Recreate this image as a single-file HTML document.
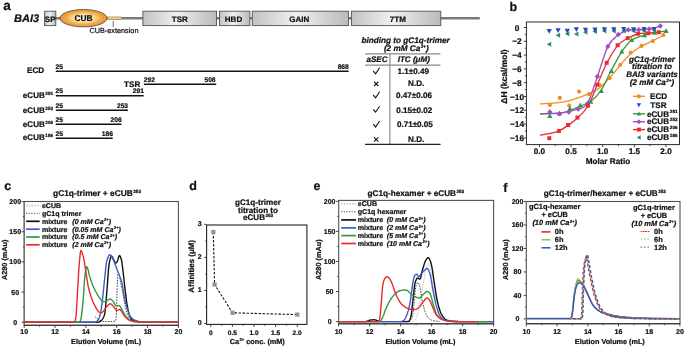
<!DOCTYPE html>
<html><head><meta charset="utf-8"><style>
html,body{margin:0;padding:0;background:#fff;}
svg{display:block;will-change:transform;}
text{font-family:"Liberation Sans",sans-serif;stroke:#111;stroke-width:0.22px;text-rendering:geometricPrecision;}
</style></head><body>
<svg width="685" height="347" viewBox="0 0 685 347">
<defs>
<linearGradient id="gbox" x1="0" y1="0" x2="1" y2="0">
<stop offset="0" stop-color="#c2c2c2"/><stop offset="0.45" stop-color="#f0f0f0"/><stop offset="1" stop-color="#bababa"/>
</linearGradient>
<radialGradient id="gcub" cx="0.5" cy="0.5" r="0.5">
<stop offset="0" stop-color="#fffcf2"/><stop offset="0.38" stop-color="#fbe4aa"/><stop offset="0.75" stop-color="#f0aa48"/><stop offset="1" stop-color="#e8922a"/>
</radialGradient>
</defs>
<rect width="685" height="347" fill="#fff"/>
<text x="3.20" y="10.30" font-size="13.5" font-weight="bold" font-style="normal" text-anchor="start" fill="#111" >a</text>
<text x="14.00" y="22.30" font-size="11.0" font-weight="bold" font-style="italic" text-anchor="start" fill="#111" >BAI3</text>
<line x1="50.00" y1="18.20" x2="479.80" y2="18.20" stroke="#7a7a7a" stroke-width="2.6" />
<rect x="44.60" y="11.2" width="11.20" height="14.40" fill="url(#gbox)" stroke="#505050" stroke-width="0.9"/>
<text x="50.20" y="21.90" font-size="8.0" font-weight="bold" font-style="normal" text-anchor="middle" fill="#111" >SP</text>
<ellipse cx="83.5" cy="18.2" rx="23.5" ry="8.7" fill="url(#gcub)" stroke="#3a3a3a" stroke-width="0.7"/>
<text x="83.50" y="21.40" font-size="8.4" font-weight="bold" font-style="normal" text-anchor="middle" fill="#111" >CUB</text>
<rect x="107.6" y="16.9" width="13.9" height="2.7" fill="#f2cd70" stroke="#777" stroke-width="0.5"/>
<line x1="113.20" y1="21.00" x2="113.20" y2="27.00" stroke="#333" stroke-width="0.7" />
<text x="89.40" y="32.80" font-size="7.3" font-weight="normal" font-style="normal" text-anchor="start" fill="#111" >CUB-extension</text>
<rect x="142.90" y="11.2" width="73.70" height="14.40" fill="url(#gbox)" stroke="#505050" stroke-width="0.9"/>
<text x="179.75" y="21.90" font-size="8" font-weight="bold" font-style="normal" text-anchor="middle" fill="#111" >TSR</text>
<rect x="219.50" y="11.2" width="30.40" height="14.40" fill="url(#gbox)" stroke="#505050" stroke-width="0.9"/>
<text x="233.50" y="21.90" font-size="8" font-weight="bold" font-style="normal" text-anchor="middle" fill="#111" >HBD</text>
<rect x="252.30" y="11.2" width="96.30" height="14.40" fill="url(#gbox)" stroke="#505050" stroke-width="0.9"/>
<text x="299.35" y="21.90" font-size="8" font-weight="bold" font-style="normal" text-anchor="middle" fill="#111" >GAIN</text>
<rect x="351.40" y="11.2" width="89.40" height="14.40" fill="url(#gbox)" stroke="#505050" stroke-width="0.9"/>
<text x="397.80" y="21.90" font-size="8" font-weight="bold" font-style="normal" text-anchor="middle" fill="#111" >7TM</text>
<line x1="55.80" y1="71.30" x2="348.60" y2="71.30" stroke="#111" stroke-width="1.5" />
<text x="27.00" y="73.20" font-size="8.1" font-weight="bold" font-style="normal" text-anchor="start" fill="#111" >ECD</text>
<text x="55.50" y="68.70" font-size="6.7" font-weight="bold" font-style="normal" text-anchor="start" fill="#111" >25</text>
<text x="348.80" y="68.70" font-size="6.7" font-weight="bold" font-style="normal" text-anchor="end" fill="#111" >868</text>
<line x1="55.80" y1="95.80" x2="143.70" y2="95.80" stroke="#111" stroke-width="1.5" />
<text x="22.80" y="98.40" font-size="8.1" font-weight="bold" font-style="normal" text-anchor="start" fill="#111" >eCUB<tspan font-size="4.6" dx="0.5" dy="-3.0">291</tspan></text>
<text x="55.50" y="93.20" font-size="6.7" font-weight="bold" font-style="normal" text-anchor="start" fill="#111" >25</text>
<text x="143.90" y="93.20" font-size="6.7" font-weight="bold" font-style="normal" text-anchor="end" fill="#111" >291</text>
<line x1="55.80" y1="110.30" x2="127.90" y2="110.30" stroke="#111" stroke-width="1.5" />
<text x="22.80" y="113.20" font-size="8.1" font-weight="bold" font-style="normal" text-anchor="start" fill="#111" >eCUB<tspan font-size="4.6" dx="0.5" dy="-3.0">253</tspan></text>
<text x="55.50" y="107.70" font-size="6.7" font-weight="bold" font-style="normal" text-anchor="start" fill="#111" >25</text>
<text x="128.10" y="107.70" font-size="6.7" font-weight="bold" font-style="normal" text-anchor="end" fill="#111" >253</text>
<line x1="55.80" y1="124.20" x2="121.50" y2="124.20" stroke="#111" stroke-width="1.5" />
<text x="22.80" y="126.60" font-size="8.1" font-weight="bold" font-style="normal" text-anchor="start" fill="#111" >eCUB<tspan font-size="4.6" dx="0.5" dy="-3.0">206</tspan></text>
<text x="55.50" y="121.60" font-size="6.7" font-weight="bold" font-style="normal" text-anchor="start" fill="#111" >25</text>
<text x="121.70" y="121.60" font-size="6.7" font-weight="bold" font-style="normal" text-anchor="end" fill="#111" >206</text>
<line x1="55.80" y1="138.20" x2="112.70" y2="138.20" stroke="#111" stroke-width="1.5" />
<text x="22.80" y="140.00" font-size="8.1" font-weight="bold" font-style="normal" text-anchor="start" fill="#111" >eCUB<tspan font-size="4.6" dx="0.5" dy="-3.0">186</tspan></text>
<text x="55.50" y="135.60" font-size="6.7" font-weight="bold" font-style="normal" text-anchor="start" fill="#111" >25</text>
<text x="112.90" y="135.60" font-size="6.7" font-weight="bold" font-style="normal" text-anchor="end" fill="#111" >186</text>
<line x1="143.80" y1="84.20" x2="216.20" y2="84.20" stroke="#111" stroke-width="1.5" />
<text x="140.30" y="86.90" font-size="8.1" font-weight="bold" font-style="normal" text-anchor="end" fill="#111" >TSR</text>
<text x="143.80" y="81.80" font-size="6.7" font-weight="bold" font-style="normal" text-anchor="start" fill="#111" >292</text>
<text x="215.60" y="81.80" font-size="6.7" font-weight="bold" font-style="normal" text-anchor="end" fill="#111" >508</text>
<text x="405.60" y="42.50" font-size="8.2" font-weight="bold" font-style="italic" text-anchor="middle" fill="#111" >binding to gC1q-trimer</text>
<text x="406.30" y="51.30" font-size="8.2" font-weight="bold" font-style="italic" text-anchor="middle" fill="#111" >(2 mM Ca<tspan font-size="4.6" dx="0.4" dy="-3.0">2+</tspan><tspan dy="3.0">)</tspan></text>
<line x1="365.10" y1="53.80" x2="440.40" y2="53.80" stroke="#8a8a8a" stroke-width="1.2" />
<line x1="365.10" y1="65.20" x2="440.40" y2="65.20" stroke="#8a8a8a" stroke-width="1.2" />
<line x1="389.90" y1="53.80" x2="389.90" y2="144.40" stroke="#8a8a8a" stroke-width="1.2" />
<line x1="365.10" y1="144.40" x2="440.60" y2="144.40" stroke="#222" stroke-width="1.1" />
<text x="377.00" y="61.50" font-size="8.1" font-weight="bold" font-style="italic" text-anchor="middle" fill="#111" >aSEC</text>
<text x="413.80" y="61.50" font-size="8.1" font-weight="bold" font-style="italic" text-anchor="middle" fill="#111" >ITC (μM)</text>
<path d="M373.2,70.90 L375.6,73.80 L379.6,67.80" fill="none" stroke="#111" stroke-width="1.1"/>
<text x="413.20" y="74.20" font-size="8.1" font-weight="bold" font-style="normal" text-anchor="middle" fill="#111" >1.1±0.49</text>
<path d="M374.0,81.70 L378.4,86.00 M378.4,81.70 L374.0,86.00" fill="none" stroke="#111" stroke-width="1.1"/>
<text x="416.20" y="86.30" font-size="8.1" font-weight="bold" font-style="normal" text-anchor="middle" fill="#111" >N.D.</text>
<path d="M373.2,94.90 L375.6,97.80 L379.6,91.80" fill="none" stroke="#111" stroke-width="1.1"/>
<text x="414.00" y="98.20" font-size="8.1" font-weight="bold" font-style="normal" text-anchor="middle" fill="#111" >0.47±0.06</text>
<path d="M373.2,109.30 L375.6,112.20 L379.6,106.20" fill="none" stroke="#111" stroke-width="1.1"/>
<text x="414.20" y="112.60" font-size="8.1" font-weight="bold" font-style="normal" text-anchor="middle" fill="#111" >0.15±0.02</text>
<path d="M373.2,124.10 L375.6,127.00 L379.6,121.00" fill="none" stroke="#111" stroke-width="1.1"/>
<text x="414.90" y="127.40" font-size="8.1" font-weight="bold" font-style="normal" text-anchor="middle" fill="#111" >0.71±0.05</text>
<path d="M374.0,137.30 L378.4,141.60 M378.4,137.30 L374.0,141.60" fill="none" stroke="#111" stroke-width="1.1"/>
<text x="416.20" y="141.90" font-size="8.1" font-weight="bold" font-style="normal" text-anchor="middle" fill="#111" >N.D.</text>
<text x="509.40" y="10.90" font-size="12.5" font-weight="bold" font-style="normal" text-anchor="start" fill="#111" >b</text>
<rect x="526.4" y="22.0" width="153.10" height="122.60" fill="none" stroke="#2a2a2a" stroke-width="1"/>
<line x1="523.80" y1="27.50" x2="526.40" y2="27.50" stroke="#2a2a2a" stroke-width="0.9" />
<text x="517.00" y="30.50" font-size="8.3" font-weight="bold" font-style="normal" text-anchor="middle" fill="#111" >0</text>
<line x1="524.80" y1="34.40" x2="526.40" y2="34.40" stroke="#2a2a2a" stroke-width="0.8" />
<line x1="523.80" y1="41.30" x2="526.40" y2="41.30" stroke="#2a2a2a" stroke-width="0.9" />
<text x="517.00" y="44.30" font-size="8.3" font-weight="bold" font-style="normal" text-anchor="middle" fill="#111" >−2</text>
<line x1="524.80" y1="48.20" x2="526.40" y2="48.20" stroke="#2a2a2a" stroke-width="0.8" />
<line x1="523.80" y1="55.10" x2="526.40" y2="55.10" stroke="#2a2a2a" stroke-width="0.9" />
<text x="517.00" y="58.10" font-size="8.3" font-weight="bold" font-style="normal" text-anchor="middle" fill="#111" >−4</text>
<line x1="524.80" y1="62.00" x2="526.40" y2="62.00" stroke="#2a2a2a" stroke-width="0.8" />
<line x1="523.80" y1="68.90" x2="526.40" y2="68.90" stroke="#2a2a2a" stroke-width="0.9" />
<text x="517.00" y="71.90" font-size="8.3" font-weight="bold" font-style="normal" text-anchor="middle" fill="#111" >−6</text>
<line x1="524.80" y1="75.80" x2="526.40" y2="75.80" stroke="#2a2a2a" stroke-width="0.8" />
<line x1="523.80" y1="82.70" x2="526.40" y2="82.70" stroke="#2a2a2a" stroke-width="0.9" />
<text x="517.00" y="85.70" font-size="8.3" font-weight="bold" font-style="normal" text-anchor="middle" fill="#111" >−8</text>
<line x1="524.80" y1="89.60" x2="526.40" y2="89.60" stroke="#2a2a2a" stroke-width="0.8" />
<line x1="523.80" y1="96.50" x2="526.40" y2="96.50" stroke="#2a2a2a" stroke-width="0.9" />
<text x="517.00" y="99.50" font-size="8.3" font-weight="bold" font-style="normal" text-anchor="middle" fill="#111" >−10</text>
<line x1="524.80" y1="103.40" x2="526.40" y2="103.40" stroke="#2a2a2a" stroke-width="0.8" />
<line x1="523.80" y1="110.30" x2="526.40" y2="110.30" stroke="#2a2a2a" stroke-width="0.9" />
<text x="517.00" y="113.30" font-size="8.3" font-weight="bold" font-style="normal" text-anchor="middle" fill="#111" >−12</text>
<line x1="524.80" y1="117.20" x2="526.40" y2="117.20" stroke="#2a2a2a" stroke-width="0.8" />
<line x1="523.80" y1="124.10" x2="526.40" y2="124.10" stroke="#2a2a2a" stroke-width="0.9" />
<text x="517.00" y="127.10" font-size="8.3" font-weight="bold" font-style="normal" text-anchor="middle" fill="#111" >−14</text>
<line x1="524.80" y1="131.00" x2="526.40" y2="131.00" stroke="#2a2a2a" stroke-width="0.8" />
<line x1="523.80" y1="137.90" x2="526.40" y2="137.90" stroke="#2a2a2a" stroke-width="0.9" />
<text x="517.00" y="140.90" font-size="8.3" font-weight="bold" font-style="normal" text-anchor="middle" fill="#111" >−16</text>
<line x1="539.40" y1="144.60" x2="539.40" y2="147.20" stroke="#2a2a2a" stroke-width="0.9" />
<text x="539.40" y="154.40" font-size="8.2" font-weight="bold" font-style="normal" text-anchor="middle" fill="#111" >0.0</text>
<line x1="555.23" y1="144.60" x2="555.23" y2="146.20" stroke="#2a2a2a" stroke-width="0.8" />
<line x1="571.05" y1="144.60" x2="571.05" y2="147.20" stroke="#2a2a2a" stroke-width="0.9" />
<text x="571.05" y="154.40" font-size="8.2" font-weight="bold" font-style="normal" text-anchor="middle" fill="#111" >0.5</text>
<line x1="586.88" y1="144.60" x2="586.88" y2="146.20" stroke="#2a2a2a" stroke-width="0.8" />
<line x1="602.70" y1="144.60" x2="602.70" y2="147.20" stroke="#2a2a2a" stroke-width="0.9" />
<text x="602.70" y="154.40" font-size="8.2" font-weight="bold" font-style="normal" text-anchor="middle" fill="#111" >1.0</text>
<line x1="618.52" y1="144.60" x2="618.52" y2="146.20" stroke="#2a2a2a" stroke-width="0.8" />
<line x1="634.35" y1="144.60" x2="634.35" y2="147.20" stroke="#2a2a2a" stroke-width="0.9" />
<text x="634.35" y="154.40" font-size="8.2" font-weight="bold" font-style="normal" text-anchor="middle" fill="#111" >1.5</text>
<line x1="650.17" y1="144.60" x2="650.17" y2="146.20" stroke="#2a2a2a" stroke-width="0.8" />
<line x1="666.00" y1="144.60" x2="666.00" y2="147.20" stroke="#2a2a2a" stroke-width="0.9" />
<text x="666.00" y="154.40" font-size="8.2" font-weight="bold" font-style="normal" text-anchor="middle" fill="#111" >2.0</text>
<text x="608.00" y="163.90" font-size="8.2" font-weight="bold" font-style="normal" text-anchor="middle" fill="#111" >Molar Ratio</text>
<text transform="translate(506.9,76.5) rotate(-90)" font-size="8.5" font-weight="bold" text-anchor="middle" fill="#111">ΔH (kcal/mol)</text>
<path d="M540.00,103.90 C543.17,103.68 554.00,103.18 559.00,102.60 C564.00,102.02 566.50,101.30 570.00,100.40 C573.50,99.50 576.83,98.33 580.00,97.20 C583.17,96.07 585.67,95.22 589.00,93.60 C592.33,91.98 596.50,90.18 600.00,87.50 C603.50,84.82 606.67,81.17 610.00,77.50 C613.33,73.83 616.50,69.50 620.00,65.50 C623.50,61.50 627.50,56.67 631.00,53.50 C634.50,50.33 637.50,48.55 641.00,46.50 C644.50,44.45 648.27,43.03 652.00,41.20 C655.73,39.37 661.50,36.45 663.40,35.50" fill="none" stroke="#f28b2a" stroke-width="1.3" />
<path d="M540.00,114.00 C543.33,113.87 555.00,113.78 560.00,113.20 C565.00,112.62 566.67,111.65 570.00,110.50 C573.33,109.35 576.50,107.85 580.00,106.30 C583.50,104.75 587.50,103.83 591.00,101.20 C594.50,98.57 597.67,95.53 601.00,90.50 C604.33,85.47 607.53,77.48 611.00,71.00 C614.47,64.52 618.37,56.73 621.80,51.60 C625.23,46.47 627.90,42.92 631.60,40.20 C635.30,37.48 640.10,36.57 644.00,35.30 C647.90,34.03 651.33,33.32 655.00,32.60 C658.67,31.88 664.17,31.27 666.00,31.00" fill="none" stroke="#2f9a43" stroke-width="1.3" />
<path d="M540.00,113.60 C543.17,113.53 554.17,113.53 559.00,113.20 C563.83,112.87 565.83,112.30 569.00,111.60 C572.17,110.90 574.92,110.37 578.00,109.00 C581.08,107.63 584.27,108.80 587.50,103.40 C590.73,98.00 594.02,86.07 597.40,76.60 C600.78,67.13 604.32,53.57 607.80,46.60 C611.28,39.63 614.88,37.57 618.30,34.80 C621.72,32.03 624.90,30.87 628.30,30.00 C631.70,29.13 635.22,29.77 638.70,29.60 C642.18,29.43 645.60,29.57 649.20,29.00 C652.80,28.43 658.45,26.67 660.30,26.20" fill="none" stroke="#a04ec6" stroke-width="1.3" />
<path d="M540.00,135.20 C541.50,134.93 545.83,134.33 549.00,133.60 C552.17,132.87 555.83,132.17 559.00,130.80 C562.17,129.43 564.93,127.53 568.00,125.40 C571.07,123.27 574.07,121.23 577.40,118.00 C580.73,114.77 584.70,111.50 588.00,106.00 C591.30,100.50 594.08,92.13 597.20,85.00 C600.32,77.87 603.30,69.77 606.70,63.20 C610.10,56.63 614.10,49.75 617.60,45.60 C621.10,41.45 624.28,40.23 627.70,38.30 C631.12,36.37 634.67,34.88 638.10,34.00 C641.53,33.12 644.85,33.30 648.30,33.00 C651.75,32.70 657.05,32.33 658.80,32.20" fill="none" stroke="#ee2a2a" stroke-width="1.3" />
<circle cx="549.80" cy="105.00" r="2.09" fill="#f28b2a"/>
<circle cx="559.80" cy="97.90" r="2.09" fill="#f28b2a"/>
<circle cx="569.20" cy="105.70" r="2.09" fill="#f28b2a"/>
<circle cx="579.10" cy="91.60" r="2.09" fill="#f28b2a"/>
<circle cx="589.00" cy="94.20" r="2.09" fill="#f28b2a"/>
<circle cx="599.60" cy="85.20" r="2.09" fill="#f28b2a"/>
<circle cx="609.70" cy="78.10" r="2.09" fill="#f28b2a"/>
<circle cx="620.20" cy="64.80" r="2.09" fill="#f28b2a"/>
<circle cx="630.70" cy="52.60" r="2.09" fill="#f28b2a"/>
<circle cx="641.50" cy="45.90" r="2.09" fill="#f28b2a"/>
<circle cx="652.80" cy="41.10" r="2.09" fill="#f28b2a"/>
<circle cx="663.40" cy="35.00" r="2.09" fill="#f28b2a"/>
<path d="M547.20,117.98 L552.40,117.98 L549.80,113.30Z" fill="#2f9a43"/>
<path d="M556.80,115.48 L562.00,115.48 L559.40,110.80Z" fill="#2f9a43"/>
<path d="M567.40,110.78 L572.60,110.78 L570.00,106.10Z" fill="#2f9a43"/>
<path d="M577.70,107.28 L582.90,107.28 L580.30,102.60Z" fill="#2f9a43"/>
<path d="M588.20,103.78 L593.40,103.78 L590.80,99.10Z" fill="#2f9a43"/>
<path d="M598.70,92.88 L603.90,92.88 L601.30,88.20Z" fill="#2f9a43"/>
<path d="M608.80,72.88 L614.00,72.88 L611.40,68.20Z" fill="#2f9a43"/>
<path d="M619.20,53.38 L624.40,53.38 L621.80,48.70Z" fill="#2f9a43"/>
<path d="M629.00,41.88 L634.20,41.88 L631.60,37.20Z" fill="#2f9a43"/>
<path d="M641.90,37.28 L647.10,37.28 L644.50,32.60Z" fill="#2f9a43"/>
<path d="M652.10,34.68 L657.30,34.68 L654.70,30.00Z" fill="#2f9a43"/>
<path d="M663.50,32.98 L668.70,32.98 L666.10,28.30Z" fill="#2f9a43"/>
<path d="M549.80,109.24 L552.44,112.00 L549.80,114.76 L547.16,112.00Z" fill="#a04ec6"/>
<path d="M559.40,110.94 L562.04,113.70 L559.40,116.46 L556.76,113.70Z" fill="#a04ec6"/>
<path d="M568.80,109.24 L571.44,112.00 L568.80,114.76 L566.16,112.00Z" fill="#a04ec6"/>
<path d="M578.20,106.34 L580.84,109.10 L578.20,111.86 L575.56,109.10Z" fill="#a04ec6"/>
<path d="M587.50,100.84 L590.14,103.60 L587.50,106.36 L584.86,103.60Z" fill="#a04ec6"/>
<path d="M597.40,73.64 L600.04,76.40 L597.40,79.16 L594.76,76.40Z" fill="#a04ec6"/>
<path d="M607.80,43.74 L610.44,46.50 L607.80,49.26 L605.16,46.50Z" fill="#a04ec6"/>
<path d="M618.30,31.84 L620.94,34.60 L618.30,37.36 L615.66,34.60Z" fill="#a04ec6"/>
<path d="M628.30,26.94 L630.94,29.70 L628.30,32.46 L625.66,29.70Z" fill="#a04ec6"/>
<path d="M638.70,26.94 L641.34,29.70 L638.70,32.46 L636.06,29.70Z" fill="#a04ec6"/>
<path d="M649.20,26.34 L651.84,29.10 L649.20,31.86 L646.56,29.10Z" fill="#a04ec6"/>
<path d="M660.30,23.14 L662.94,25.90 L660.30,28.66 L657.66,25.90Z" fill="#a04ec6"/>
<rect x="547.32" y="136.22" width="3.96" height="3.96" fill="#ee2a2a"/>
<rect x="557.02" y="129.02" width="3.96" height="3.96" fill="#ee2a2a"/>
<rect x="566.12" y="123.02" width="3.96" height="3.96" fill="#ee2a2a"/>
<rect x="575.42" y="115.62" width="3.96" height="3.96" fill="#ee2a2a"/>
<rect x="586.02" y="103.72" width="3.96" height="3.96" fill="#ee2a2a"/>
<rect x="595.22" y="82.62" width="3.96" height="3.96" fill="#ee2a2a"/>
<rect x="604.72" y="60.82" width="3.96" height="3.96" fill="#ee2a2a"/>
<rect x="615.62" y="43.22" width="3.96" height="3.96" fill="#ee2a2a"/>
<rect x="625.72" y="36.12" width="3.96" height="3.96" fill="#ee2a2a"/>
<rect x="636.12" y="31.72" width="3.96" height="3.96" fill="#ee2a2a"/>
<rect x="646.32" y="31.22" width="3.96" height="3.96" fill="#ee2a2a"/>
<rect x="656.82" y="30.22" width="3.96" height="3.96" fill="#ee2a2a"/>
<path d="M551.20,41.70 L551.20,46.70 L546.70,44.20Z" fill="#2b8c79"/>
<path d="M560.10,32.70 L560.10,37.70 L555.60,35.20Z" fill="#2b8c79"/>
<path d="M569.30,31.30 L569.30,36.30 L564.80,33.80Z" fill="#2b8c79"/>
<path d="M578.40,31.50 L578.40,36.50 L573.90,34.00Z" fill="#2b8c79"/>
<path d="M587.50,29.80 L587.50,34.80 L583.00,32.30Z" fill="#2b8c79"/>
<path d="M597.00,29.10 L597.00,34.10 L592.50,31.60Z" fill="#2b8c79"/>
<path d="M606.40,28.60 L606.40,33.60 L601.90,31.10Z" fill="#2b8c79"/>
<path d="M615.80,28.60 L615.80,33.60 L611.30,31.10Z" fill="#2b8c79"/>
<path d="M625.70,28.60 L625.70,33.60 L621.20,31.10Z" fill="#2b8c79"/>
<path d="M635.60,28.50 L635.60,33.50 L631.10,31.00Z" fill="#2b8c79"/>
<path d="M646.00,28.20 L646.00,33.20 L641.50,30.70Z" fill="#2b8c79"/>
<path d="M656.00,28.00 L656.00,33.00 L651.50,30.50Z" fill="#2b8c79"/>
<path d="M546.60,29.02 L551.80,29.02 L549.20,33.70Z" fill="#2b46b0"/>
<path d="M555.50,28.22 L560.70,28.22 L558.10,32.90Z" fill="#2b46b0"/>
<path d="M564.70,28.82 L569.90,28.82 L567.30,33.50Z" fill="#2b46b0"/>
<path d="M573.80,27.22 L579.00,27.22 L576.40,31.90Z" fill="#2b46b0"/>
<path d="M582.90,27.82 L588.10,27.82 L585.50,32.50Z" fill="#2b46b0"/>
<path d="M592.40,27.52 L597.60,27.52 L595.00,32.20Z" fill="#2b46b0"/>
<path d="M601.80,27.32 L607.00,27.32 L604.40,32.00Z" fill="#2b46b0"/>
<path d="M611.20,27.22 L616.40,27.22 L613.80,31.90Z" fill="#2b46b0"/>
<path d="M621.10,26.92 L626.30,26.92 L623.70,31.60Z" fill="#2b46b0"/>
<path d="M631.00,27.22 L636.20,27.22 L633.60,31.90Z" fill="#2b46b0"/>
<path d="M641.40,26.92 L646.60,26.92 L644.00,31.60Z" fill="#2b46b0"/>
<path d="M651.40,26.92 L656.60,26.92 L654.00,31.60Z" fill="#2b46b0"/>
<text x="652.00" y="61.50" font-size="8.1" font-weight="bold" font-style="italic" text-anchor="middle" fill="#111" >gC1q-trimer</text>
<text x="652.00" y="69.20" font-size="8.1" font-weight="bold" font-style="italic" text-anchor="middle" fill="#111" >titration to</text>
<text x="652.00" y="77.20" font-size="8.1" font-weight="bold" font-style="italic" text-anchor="middle" fill="#111" >BAI3 variants</text>
<text x="652.00" y="84.80" font-size="8.1" font-weight="bold" font-style="italic" text-anchor="middle" fill="#111" >(2 mM Ca<tspan font-size="4.6" dx="0.4" dy="-3.0">2+</tspan><tspan dy="3.0">)</tspan></text>
<line x1="633.00" y1="96.30" x2="645.00" y2="96.30" stroke="#f28b2a" stroke-width="1.4" />
<circle cx="638.90" cy="96.30" r="2.09" fill="#f28b2a"/>
<text x="650.10" y="99.00" font-size="8.1" font-weight="bold" font-style="normal" text-anchor="start" fill="#111" >ECD</text>
<path d="M636.70,103.34 L641.10,103.34 L638.90,107.30Z" fill="#2b46b0"/>
<text x="650.30" y="107.80" font-size="8.1" font-weight="bold" font-style="normal" text-anchor="start" fill="#111" >TSR</text>
<line x1="633.00" y1="113.80" x2="645.00" y2="113.80" stroke="#2f9a43" stroke-width="1.4" />
<path d="M636.70,115.56 L641.10,115.56 L638.90,111.60Z" fill="#2f9a43"/>
<text x="647.00" y="116.50" font-size="8.1" font-weight="bold" font-style="normal" text-anchor="start" fill="#111" >eCUB<tspan font-size="4.6" dx="0.8" dy="-3.2">291</tspan></text>
<line x1="633.00" y1="121.70" x2="645.00" y2="121.70" stroke="#a04ec6" stroke-width="1.4" />
<path d="M638.90,119.17 L641.32,121.70 L638.90,124.23 L636.48,121.70Z" fill="#a04ec6"/>
<text x="647.00" y="124.40" font-size="8.1" font-weight="bold" font-style="normal" text-anchor="start" fill="#111" >eCUB<tspan font-size="4.6" dx="0.8" dy="-3.2">253</tspan></text>
<line x1="633.00" y1="129.60" x2="645.00" y2="129.60" stroke="#ee2a2a" stroke-width="1.4" />
<rect x="636.92" y="127.62" width="3.96" height="3.96" fill="#ee2a2a"/>
<text x="647.00" y="132.30" font-size="8.1" font-weight="bold" font-style="normal" text-anchor="start" fill="#111" >eCUB<tspan font-size="4.6" dx="0.8" dy="-3.2">206</tspan></text>
<path d="M640.66,135.30 L640.66,139.70 L636.70,137.50Z" fill="#2b8c79"/>
<text x="647.00" y="140.20" font-size="8.1" font-weight="bold" font-style="normal" text-anchor="start" fill="#111" >eCUB<tspan font-size="4.6" dx="0.8" dy="-3.2">186</tspan></text>
<text x="4.30" y="189.60" font-size="12.5" font-weight="bold" font-style="normal" text-anchor="start" fill="#111" >c</text>
<text x="97.00" y="195.80" font-size="8.4" font-weight="bold" font-style="normal" text-anchor="middle" fill="#111" >gC1q-trimer + eCUB<tspan font-size="4.6" dx="0.4" dy="-2.9">253</tspan></text>
<rect x="24.2" y="201.5" width="154.20" height="123.80" fill="none" stroke="#505050" stroke-width="1.1"/>
<line x1="24.20" y1="201.50" x2="24.20" y2="325.30" stroke="#6e6e6e" stroke-width="1.1" />
<line x1="24.20" y1="325.30" x2="178.40" y2="325.30" stroke="#333" stroke-width="1.1" />
<line x1="21.60" y1="322.20" x2="24.20" y2="322.20" stroke="#333" stroke-width="0.9" />
<text x="15.20" y="324.70" font-size="7" font-weight="bold" font-style="normal" text-anchor="middle" fill="#111" >0</text>
<line x1="21.60" y1="292.05" x2="24.20" y2="292.05" stroke="#333" stroke-width="0.9" />
<text x="15.20" y="294.55" font-size="7" font-weight="bold" font-style="normal" text-anchor="middle" fill="#111" >50</text>
<line x1="21.60" y1="261.90" x2="24.20" y2="261.90" stroke="#333" stroke-width="0.9" />
<text x="15.20" y="264.40" font-size="7" font-weight="bold" font-style="normal" text-anchor="middle" fill="#111" >100</text>
<line x1="21.60" y1="231.75" x2="24.20" y2="231.75" stroke="#333" stroke-width="0.9" />
<text x="15.20" y="234.25" font-size="7" font-weight="bold" font-style="normal" text-anchor="middle" fill="#111" >150</text>
<line x1="21.60" y1="201.60" x2="24.20" y2="201.60" stroke="#333" stroke-width="0.9" />
<text x="15.20" y="204.10" font-size="7" font-weight="bold" font-style="normal" text-anchor="middle" fill="#111" >200</text>
<line x1="22.70" y1="307.12" x2="24.20" y2="307.12" stroke="#333" stroke-width="0.8" />
<line x1="22.70" y1="276.97" x2="24.20" y2="276.97" stroke="#333" stroke-width="0.8" />
<line x1="22.70" y1="246.82" x2="24.20" y2="246.82" stroke="#333" stroke-width="0.8" />
<line x1="22.70" y1="216.68" x2="24.20" y2="216.68" stroke="#333" stroke-width="0.8" />
<line x1="24.20" y1="325.30" x2="24.20" y2="327.90" stroke="#333" stroke-width="0.9" />
<text x="24.20" y="334.40" font-size="7" font-weight="bold" font-style="normal" text-anchor="middle" fill="#111" >10</text>
<line x1="55.04" y1="325.30" x2="55.04" y2="327.90" stroke="#333" stroke-width="0.9" />
<text x="55.04" y="334.40" font-size="7" font-weight="bold" font-style="normal" text-anchor="middle" fill="#111" >12</text>
<line x1="85.88" y1="325.30" x2="85.88" y2="327.90" stroke="#333" stroke-width="0.9" />
<text x="85.88" y="334.40" font-size="7" font-weight="bold" font-style="normal" text-anchor="middle" fill="#111" >14</text>
<line x1="116.72" y1="325.30" x2="116.72" y2="327.90" stroke="#333" stroke-width="0.9" />
<text x="116.72" y="334.40" font-size="7" font-weight="bold" font-style="normal" text-anchor="middle" fill="#111" >16</text>
<line x1="147.56" y1="325.30" x2="147.56" y2="327.90" stroke="#333" stroke-width="0.9" />
<text x="147.56" y="334.40" font-size="7" font-weight="bold" font-style="normal" text-anchor="middle" fill="#111" >18</text>
<line x1="178.40" y1="325.30" x2="178.40" y2="327.90" stroke="#333" stroke-width="0.9" />
<text x="178.40" y="334.40" font-size="7" font-weight="bold" font-style="normal" text-anchor="middle" fill="#111" >20</text>
<line x1="39.62" y1="325.30" x2="39.62" y2="326.80" stroke="#333" stroke-width="0.8" />
<line x1="70.46" y1="325.30" x2="70.46" y2="326.80" stroke="#333" stroke-width="0.8" />
<line x1="101.30" y1="325.30" x2="101.30" y2="326.80" stroke="#333" stroke-width="0.8" />
<line x1="132.14" y1="325.30" x2="132.14" y2="326.80" stroke="#333" stroke-width="0.8" />
<line x1="162.98" y1="325.30" x2="162.98" y2="326.80" stroke="#333" stroke-width="0.8" />
<text x="106.10" y="344.30" font-size="7.25" font-weight="bold" font-style="normal" text-anchor="middle" fill="#111" >Elution Volume (mL)</text>
<text transform="translate(6.9,259.8) rotate(-90)" font-size="7.3" font-weight="bold" text-anchor="middle" fill="#111">A280 (mAu)</text>
<path d="M95.13,316.77 L96.29,317.75 L97.45,318.64 L99.37,319.98 L100.14,320.47 L100.91,320.86 L102.46,321.32 L103.61,321.55 L104.38,321.60 L109.01,321.56 L112.48,321.46 L115.18,321.30 L115.56,320.78 L115.95,319.37 L116.33,315.02 L116.72,304.11 L117.11,289.93 L117.49,280.02 L117.88,274.02 L118.26,272.80 L118.65,273.23 L119.03,273.96 L119.42,275.59 L119.80,278.11 L120.19,280.39 L120.58,282.30 L121.73,287.73 L122.12,289.64 L122.50,291.68 L123.66,298.22 L124.04,300.33 L124.43,302.30 L125.20,306.13 L125.59,307.99 L125.97,309.72 L126.36,311.27 L126.74,312.55 L127.51,314.74 L127.90,315.74 L128.28,316.66 L128.67,317.48 L129.06,318.19 L129.44,318.76 L129.83,319.19 L130.60,319.82 L131.37,320.35 L132.14,320.77 L132.91,321.09 L133.68,321.30 L135.61,321.65 L137.54,321.90 L139.08,322.01 L139.85,322.02" fill="none" stroke="#333" stroke-width="0.9" stroke-linejoin="round" stroke-dasharray="1.6,1.2"/>
<path d="M24.20,322.20 L98.22,322.20 L98.60,322.16 L98.99,322.04 L99.37,321.87 L100.14,321.36 L101.30,320.39 L101.69,320.03 L102.07,319.61 L102.46,319.12 L102.84,318.54 L103.23,317.87 L103.61,317.07 L104.00,316.15 L104.38,315.08 L104.77,313.59 L105.16,310.81 L105.54,307.00 L105.93,302.53 L106.31,297.80 L106.70,293.18 L107.08,288.73 L107.47,283.58 L107.85,278.08 L108.24,272.76 L108.62,268.11 L109.01,264.65 L109.40,262.54 L109.78,260.69 L110.17,259.04 L110.55,257.69 L110.94,256.72 L111.32,256.22 L111.71,256.24 L112.09,256.62 L112.48,257.24 L113.25,258.78 L113.64,259.49 L114.02,260.26 L114.79,262.06 L115.18,262.75 L115.56,263.10 L115.95,263.02 L116.33,262.72 L116.72,262.28 L117.11,261.79 L117.49,260.94 L117.88,259.72 L118.26,258.35 L118.65,257.06 L119.03,256.07 L119.42,255.58 L119.80,255.72 L120.19,256.28 L120.58,257.16 L120.96,258.26 L121.35,259.49 L121.73,261.23 L122.12,263.76 L122.50,266.80 L123.27,273.34 L123.66,276.54 L124.04,280.03 L124.82,287.28 L125.20,290.72 L125.59,293.86 L125.97,296.85 L126.36,299.76 L126.74,302.50 L127.13,304.98 L127.51,307.12 L127.90,309.02 L128.28,310.81 L128.67,312.46 L129.06,313.92 L129.44,315.17 L129.83,316.17 L130.21,317.01 L130.60,317.77 L130.98,318.46 L131.37,319.03 L131.75,319.48 L132.14,319.79 L132.91,320.19 L134.07,320.65 L135.22,320.98 L137.92,321.50 L140.24,321.87 L142.16,322.09 L143.70,322.19 L178.40,322.20" fill="none" stroke="#111" stroke-width="1.4" stroke-linejoin="round" />
<path d="M24.20,322.20 L95.13,322.20 L95.52,322.15 L95.90,322.01 L96.29,321.78 L96.67,321.48 L97.45,320.71 L98.22,319.79 L98.60,319.18 L98.99,318.34 L99.37,317.29 L99.76,316.07 L100.14,314.68 L100.53,313.15 L100.91,311.23 L101.30,308.75 L101.69,305.91 L102.07,302.91 L102.46,299.81 L102.84,296.37 L103.23,292.67 L104.00,285.03 L104.38,281.38 L104.77,277.86 L105.16,274.07 L105.54,270.22 L105.93,266.61 L106.31,263.54 L106.70,261.29 L107.08,259.95 L107.47,258.78 L107.85,257.71 L108.24,256.76 L108.62,255.96 L109.01,255.33 L109.40,254.90 L109.78,254.68 L110.17,254.71 L110.55,254.98 L110.94,255.43 L111.32,256.03 L112.87,258.86 L113.25,259.69 L113.64,260.60 L115.56,265.46 L116.72,268.49 L118.65,273.67 L120.19,277.45 L120.58,278.46 L120.96,279.55 L121.35,280.76 L121.73,282.11 L122.12,283.75 L122.50,285.82 L122.89,288.18 L123.27,290.65 L123.66,293.07 L124.04,295.27 L124.43,297.21 L124.82,299.06 L125.20,300.84 L125.59,302.52 L125.97,304.11 L126.36,305.64 L126.74,307.11 L127.13,308.48 L127.51,309.70 L128.28,311.81 L129.06,313.77 L129.44,314.66 L129.83,315.47 L130.21,316.19 L130.60,316.80 L130.98,317.29 L131.75,318.05 L132.53,318.73 L133.30,319.32 L134.07,319.83 L134.84,320.26 L135.61,320.61 L136.38,320.88 L138.69,321.46 L140.62,321.85 L142.16,322.07 L143.70,322.18 L178.40,322.20" fill="none" stroke="#3b5fc4" stroke-width="1.4" stroke-linejoin="round" />
<path d="M24.20,322.20 L78.94,322.20 L79.33,322.06 L79.71,321.67 L80.10,321.09 L80.48,320.39 L80.87,319.17 L81.25,317.11 L81.64,314.39 L82.03,311.20 L82.41,307.71 L82.80,304.11 L83.18,299.61 L83.57,293.86 L83.95,287.71 L84.34,282.02 L84.72,277.62 L85.11,274.54 L85.49,271.61 L85.88,269.11 L86.27,267.38 L86.65,266.72 L87.04,267.07 L87.42,267.90 L87.81,268.93 L88.19,270.13 L88.58,271.75 L88.96,273.52 L89.35,275.13 L89.73,276.46 L90.51,278.95 L91.28,281.26 L92.05,283.39 L92.82,285.35 L93.59,287.15 L94.36,288.80 L95.13,290.35 L96.29,292.51 L97.83,295.30 L98.60,296.60 L99.37,297.75 L101.30,300.15 L102.07,300.98 L102.46,301.30 L102.84,301.54 L103.23,301.67 L103.61,301.69 L104.38,301.59 L105.16,301.37 L107.08,300.64 L107.85,300.18 L109.01,299.41 L109.40,299.20 L109.78,299.05 L110.17,298.99 L110.55,299.03 L110.94,299.21 L111.32,299.50 L112.09,300.26 L112.87,301.09 L113.25,301.58 L113.64,302.20 L114.79,304.36 L115.18,305.00 L115.56,305.51 L115.95,305.83 L116.33,305.92 L117.49,305.79 L118.65,305.63 L119.03,305.62 L119.42,305.73 L119.80,306.03 L120.19,306.50 L120.58,307.09 L121.35,308.50 L122.12,309.96 L122.89,311.24 L123.66,312.61 L124.82,314.72 L125.20,315.37 L125.59,315.96 L126.36,316.94 L127.13,317.83 L127.90,318.65 L128.67,319.35 L129.44,319.89 L130.60,320.42 L131.75,320.84 L132.91,321.19 L134.07,321.44 L135.22,321.60 L139.08,321.90 L142.93,322.11 L146.40,322.19 L178.40,322.20" fill="none" stroke="#2f9a43" stroke-width="1.4" stroke-linejoin="round" />
<path d="M24.20,322.20 L74.31,322.20 L74.70,321.82 L75.09,320.78 L75.47,319.24 L75.86,317.38 L76.24,313.84 L76.63,307.98 L77.40,293.98 L77.78,287.67 L78.17,280.88 L78.56,274.04 L78.94,267.77 L79.33,262.71 L79.71,258.73 L80.10,254.92 L80.48,251.94 L80.87,250.49 L81.25,250.68 L81.64,251.49 L82.03,252.63 L82.80,255.00 L83.18,256.33 L83.57,257.83 L83.95,259.55 L84.34,261.65 L84.72,264.11 L85.49,269.47 L85.88,272.08 L86.27,274.51 L87.04,279.52 L87.42,281.95 L87.81,284.21 L88.19,286.21 L88.58,287.92 L88.96,289.50 L89.35,290.97 L89.73,292.36 L90.12,293.66 L90.51,294.88 L91.28,297.16 L92.05,299.27 L92.82,301.22 L93.59,303.02 L94.36,304.67 L95.13,306.18 L96.29,308.31 L97.06,309.66 L97.45,310.26 L97.83,310.80 L98.22,311.25 L98.60,311.59 L99.37,312.12 L100.14,312.55 L100.53,312.71 L100.91,312.82 L101.30,312.85 L101.69,312.76 L102.07,312.51 L102.46,312.14 L103.61,310.88 L104.00,310.42 L104.77,309.35 L105.93,307.65 L106.31,307.14 L106.70,306.68 L108.24,305.05 L109.01,304.34 L109.40,304.07 L109.78,303.89 L110.17,303.81 L110.55,303.85 L110.94,304.00 L111.32,304.24 L111.71,304.57 L112.48,305.40 L114.02,307.30 L114.41,307.73 L114.79,308.21 L115.56,309.39 L115.95,309.92 L116.33,310.30 L116.72,310.44 L117.11,310.40 L117.88,310.16 L119.03,309.68 L119.42,309.58 L119.80,309.54 L120.19,309.66 L120.58,310.01 L120.96,310.52 L121.35,311.14 L122.12,312.53 L122.50,313.19 L124.43,315.87 L125.20,316.86 L125.59,317.29 L126.36,318.03 L127.51,318.99 L128.28,319.55 L129.06,320.03 L129.83,320.39 L131.37,320.97 L132.53,321.34 L133.68,321.63 L134.84,321.81 L139.08,322.03 L143.70,322.17 L178.40,322.20" fill="none" stroke="#ea2a2a" stroke-width="1.4" stroke-linejoin="round" />
<line x1="26.10" y1="205.50" x2="39.70" y2="205.50" stroke="#cfcfcf" stroke-width="1.8" stroke-dasharray="1.5,1.2"/>
<text x="41.90" y="207.80" font-size="7.05" font-weight="bold" font-style="normal" text-anchor="start" fill="#111" >eCUB</text>
<line x1="26.10" y1="213.30" x2="39.70" y2="213.30" stroke="#3a3a3a" stroke-width="1.0" stroke-dasharray="1.1,1.5"/>
<text x="41.90" y="215.60" font-size="7.05" font-weight="bold" font-style="normal" text-anchor="start" fill="#111" >gC1q trimer</text>
<line x1="26.10" y1="221.30" x2="39.70" y2="221.30" stroke="#111" stroke-width="1.7" />
<text x="41.90" y="223.60" font-size="7.05" font-weight="bold" font-style="normal" text-anchor="start" fill="#111" >mixture</text>
<text x="72.30" y="223.60" font-size="7.05" font-weight="bold" font-style="italic" text-anchor="start" fill="#111" >(0 mM Ca<tspan font-size="4.2" dx="0.4" dy="-2.7">2+</tspan><tspan dy="2.7">)</tspan></text>
<line x1="26.10" y1="229.20" x2="39.70" y2="229.20" stroke="#3b5fc4" stroke-width="1.7" />
<text x="41.90" y="231.50" font-size="7.05" font-weight="bold" font-style="normal" text-anchor="start" fill="#111" >mixture</text>
<text x="72.30" y="231.50" font-size="7.05" font-weight="bold" font-style="italic" text-anchor="start" fill="#111" >(0.05 mM Ca<tspan font-size="4.2" dx="0.4" dy="-2.7">2+</tspan><tspan dy="2.7">)</tspan></text>
<line x1="26.10" y1="237.00" x2="39.70" y2="237.00" stroke="#2f9a43" stroke-width="1.7" />
<text x="41.90" y="239.30" font-size="7.05" font-weight="bold" font-style="normal" text-anchor="start" fill="#111" >mixture</text>
<text x="72.30" y="239.30" font-size="7.05" font-weight="bold" font-style="italic" text-anchor="start" fill="#111" >(0.5 mM Ca<tspan font-size="4.2" dx="0.4" dy="-2.7">2+</tspan><tspan dy="2.7">)</tspan></text>
<line x1="26.10" y1="244.80" x2="39.70" y2="244.80" stroke="#ea2a2a" stroke-width="1.7" />
<text x="41.90" y="247.10" font-size="7.05" font-weight="bold" font-style="normal" text-anchor="start" fill="#111" >mixture</text>
<text x="72.30" y="247.10" font-size="7.05" font-weight="bold" font-style="italic" text-anchor="start" fill="#111" >(2 mM Ca<tspan font-size="4.2" dx="0.4" dy="-2.7">2+</tspan><tspan dy="2.7">)</tspan></text>
<text x="189.20" y="189.80" font-size="12.5" font-weight="bold" font-style="normal" text-anchor="start" fill="#111" >d</text>
<text x="258.00" y="204.60" font-size="8.1" font-weight="bold" font-style="normal" text-anchor="middle" fill="#111" >gC1q-trimer</text>
<text x="258.00" y="212.50" font-size="8.1" font-weight="bold" font-style="normal" text-anchor="middle" fill="#111" >titration to</text>
<text x="258.00" y="220.40" font-size="8.1" font-weight="bold" font-style="normal" text-anchor="middle" fill="#111" >eCUB<tspan font-size="4.6" dx="0.4" dy="-3.0">253</tspan></text>
<rect x="206.6" y="225.0" width="100.3" height="99.4" fill="none" stroke="#222" stroke-width="1.1"/>
<line x1="204.20" y1="323.50" x2="206.50" y2="323.50" stroke="#333" stroke-width="0.9" />
<text x="199.80" y="325.20" font-size="7.0" font-weight="bold" font-style="normal" text-anchor="middle" fill="#111" >0</text>
<line x1="204.20" y1="290.45" x2="206.50" y2="290.45" stroke="#333" stroke-width="0.9" />
<text x="199.80" y="292.15" font-size="7.0" font-weight="bold" font-style="normal" text-anchor="middle" fill="#111" >1</text>
<line x1="204.20" y1="257.40" x2="206.50" y2="257.40" stroke="#333" stroke-width="0.9" />
<text x="199.80" y="259.10" font-size="7.0" font-weight="bold" font-style="normal" text-anchor="middle" fill="#111" >2</text>
<line x1="204.20" y1="224.35" x2="206.50" y2="224.35" stroke="#333" stroke-width="0.9" />
<text x="199.80" y="226.05" font-size="7.0" font-weight="bold" font-style="normal" text-anchor="middle" fill="#111" >3</text>
<line x1="205.20" y1="306.98" x2="206.50" y2="306.98" stroke="#333" stroke-width="0.8" />
<line x1="205.20" y1="273.93" x2="206.50" y2="273.93" stroke="#333" stroke-width="0.8" />
<line x1="205.20" y1="240.88" x2="206.50" y2="240.88" stroke="#333" stroke-width="0.8" />
<line x1="210.80" y1="324.40" x2="210.80" y2="327.00" stroke="#333" stroke-width="0.9" />
<text x="210.80" y="334.50" font-size="6.6" font-weight="bold" font-style="normal" text-anchor="middle" fill="#111" >0</text>
<line x1="232.40" y1="324.40" x2="232.40" y2="327.00" stroke="#333" stroke-width="0.9" />
<text x="232.40" y="334.50" font-size="6.6" font-weight="bold" font-style="normal" text-anchor="middle" fill="#111" >0.5</text>
<line x1="254.00" y1="324.40" x2="254.00" y2="327.00" stroke="#333" stroke-width="0.9" />
<text x="254.00" y="334.50" font-size="6.6" font-weight="bold" font-style="normal" text-anchor="middle" fill="#111" >1.0</text>
<line x1="275.60" y1="324.40" x2="275.60" y2="327.00" stroke="#333" stroke-width="0.9" />
<text x="275.60" y="334.50" font-size="6.6" font-weight="bold" font-style="normal" text-anchor="middle" fill="#111" >1.5</text>
<line x1="297.20" y1="324.40" x2="297.20" y2="327.00" stroke="#333" stroke-width="0.9" />
<text x="297.20" y="334.50" font-size="6.6" font-weight="bold" font-style="normal" text-anchor="middle" fill="#111" >2.0</text>
<line x1="221.60" y1="324.40" x2="221.60" y2="325.90" stroke="#333" stroke-width="0.8" />
<line x1="243.20" y1="324.40" x2="243.20" y2="325.90" stroke="#333" stroke-width="0.8" />
<line x1="264.80" y1="324.40" x2="264.80" y2="325.90" stroke="#333" stroke-width="0.8" />
<line x1="286.40" y1="324.40" x2="286.40" y2="325.90" stroke="#333" stroke-width="0.8" />
<text x="257.30" y="343.90" font-size="7.3" font-weight="bold" font-style="normal" text-anchor="middle" fill="#111" >Ca<tspan font-size="4.2" dx="0.4" dy="-2.8">2+</tspan><tspan dy="2.8"> conc. (mM)</tspan></text>
<text transform="translate(194.2,266.4) rotate(-90)" font-size="7.9" font-weight="bold" text-anchor="middle" fill="#111">Affinities (μM)</text>
<path d="M213.30,232.00 L214.60,284.50 L232.60,312.80 L297.30,314.60" fill="none" stroke="#111" stroke-width="1.1" stroke-linejoin="round" stroke-dasharray="2.4,1.6"/>
<rect x="211.20" y="229.90" width="4.2" height="4.2" fill="#939393"/>
<rect x="212.50" y="282.40" width="4.2" height="4.2" fill="#939393"/>
<rect x="230.50" y="310.70" width="4.2" height="4.2" fill="#939393"/>
<rect x="295.20" y="312.50" width="4.2" height="4.2" fill="#939393"/>
<text x="313.40" y="189.80" font-size="12.5" font-weight="bold" font-style="normal" text-anchor="start" fill="#111" >e</text>
<text x="415.80" y="196.20" font-size="8.2" font-weight="bold" font-style="normal" text-anchor="middle" fill="#111" >gC1q-hexamer + eCUB<tspan font-size="4.6" dx="0.4" dy="-2.9">253</tspan></text>
<rect x="338.6" y="200.4" width="155.00" height="123.40" fill="none" stroke="#505050" stroke-width="1.1"/>
<line x1="338.60" y1="200.40" x2="338.60" y2="323.80" stroke="#6e6e6e" stroke-width="1.1" />
<line x1="338.60" y1="323.80" x2="493.60" y2="323.80" stroke="#333" stroke-width="1.1" />
<line x1="336.00" y1="321.60" x2="338.60" y2="321.60" stroke="#333" stroke-width="0.9" />
<text x="329.60" y="324.10" font-size="7" font-weight="bold" font-style="normal" text-anchor="middle" fill="#111" >0</text>
<line x1="336.00" y1="291.53" x2="338.60" y2="291.53" stroke="#333" stroke-width="0.9" />
<text x="329.60" y="294.03" font-size="7" font-weight="bold" font-style="normal" text-anchor="middle" fill="#111" >50</text>
<line x1="336.00" y1="261.45" x2="338.60" y2="261.45" stroke="#333" stroke-width="0.9" />
<text x="329.60" y="263.95" font-size="7" font-weight="bold" font-style="normal" text-anchor="middle" fill="#111" >100</text>
<line x1="336.00" y1="231.38" x2="338.60" y2="231.38" stroke="#333" stroke-width="0.9" />
<text x="329.60" y="233.88" font-size="7" font-weight="bold" font-style="normal" text-anchor="middle" fill="#111" >150</text>
<line x1="336.00" y1="201.30" x2="338.60" y2="201.30" stroke="#333" stroke-width="0.9" />
<text x="329.60" y="203.80" font-size="7" font-weight="bold" font-style="normal" text-anchor="middle" fill="#111" >200</text>
<line x1="337.10" y1="306.56" x2="338.60" y2="306.56" stroke="#333" stroke-width="0.8" />
<line x1="337.10" y1="276.49" x2="338.60" y2="276.49" stroke="#333" stroke-width="0.8" />
<line x1="337.10" y1="246.41" x2="338.60" y2="246.41" stroke="#333" stroke-width="0.8" />
<line x1="337.10" y1="216.34" x2="338.60" y2="216.34" stroke="#333" stroke-width="0.8" />
<line x1="338.60" y1="323.80" x2="338.60" y2="326.40" stroke="#333" stroke-width="0.9" />
<text x="338.60" y="334.40" font-size="7" font-weight="bold" font-style="normal" text-anchor="middle" fill="#111" >10</text>
<line x1="369.60" y1="323.80" x2="369.60" y2="326.40" stroke="#333" stroke-width="0.9" />
<text x="369.60" y="334.40" font-size="7" font-weight="bold" font-style="normal" text-anchor="middle" fill="#111" >12</text>
<line x1="400.60" y1="323.80" x2="400.60" y2="326.40" stroke="#333" stroke-width="0.9" />
<text x="400.60" y="334.40" font-size="7" font-weight="bold" font-style="normal" text-anchor="middle" fill="#111" >14</text>
<line x1="431.60" y1="323.80" x2="431.60" y2="326.40" stroke="#333" stroke-width="0.9" />
<text x="431.60" y="334.40" font-size="7" font-weight="bold" font-style="normal" text-anchor="middle" fill="#111" >16</text>
<line x1="462.60" y1="323.80" x2="462.60" y2="326.40" stroke="#333" stroke-width="0.9" />
<text x="462.60" y="334.40" font-size="7" font-weight="bold" font-style="normal" text-anchor="middle" fill="#111" >18</text>
<line x1="493.60" y1="323.80" x2="493.60" y2="326.40" stroke="#333" stroke-width="0.9" />
<text x="493.60" y="334.40" font-size="7" font-weight="bold" font-style="normal" text-anchor="middle" fill="#111" >20</text>
<line x1="354.10" y1="323.80" x2="354.10" y2="325.30" stroke="#333" stroke-width="0.8" />
<line x1="385.10" y1="323.80" x2="385.10" y2="325.30" stroke="#333" stroke-width="0.8" />
<line x1="416.10" y1="323.80" x2="416.10" y2="325.30" stroke="#333" stroke-width="0.8" />
<line x1="447.10" y1="323.80" x2="447.10" y2="325.30" stroke="#333" stroke-width="0.8" />
<line x1="478.10" y1="323.80" x2="478.10" y2="325.30" stroke="#333" stroke-width="0.8" />
<text x="420.50" y="344.30" font-size="7.25" font-weight="bold" font-style="normal" text-anchor="middle" fill="#111" >Elution Volume (mL)</text>
<text transform="translate(321.3,259.7) rotate(-90)" font-size="7.3" font-weight="bold" text-anchor="middle" fill="#111">A280 (mAu)</text>
<path d="M413.00,321.60 L413.39,321.54 L413.78,321.36 L414.16,321.08 L414.55,320.71 L414.94,320.26 L415.71,319.19 L416.10,318.59 L416.49,317.76 L416.88,316.55 L417.26,315.04 L417.65,313.32 L418.04,311.45 L418.81,307.65 L419.59,304.01 L419.98,302.09 L420.75,298.07 L421.53,293.90 L422.69,287.58 L423.08,285.51 L423.46,283.32 L423.85,280.91 L424.62,275.87 L425.01,273.43 L425.40,271.17 L425.79,269.18 L426.18,267.57 L426.56,266.43 L426.95,265.66 L427.34,264.97 L427.73,264.39 L428.11,264.00 L428.50,263.86 L428.89,264.16 L429.28,264.97 L429.66,266.14 L430.05,267.52 L430.44,268.98 L430.83,271.05 L431.21,273.72 L431.60,276.61 L431.99,279.32 L432.38,281.53 L432.76,283.56 L433.15,285.54 L433.54,287.45 L433.93,289.31 L434.31,291.11 L434.70,292.83 L435.09,294.50 L435.48,296.09 L435.86,297.62 L436.25,299.07 L436.64,300.45 L437.41,303.01 L438.19,305.47 L438.96,307.81 L439.74,309.97 L440.12,310.97 L440.51,311.90 L440.90,312.77 L441.29,313.56 L441.68,314.26 L442.06,314.87 L442.84,315.93 L443.61,316.91 L444.39,317.78 L445.16,318.53 L445.94,319.15 L446.71,319.62 L448.26,320.24 L449.81,320.75 L451.36,321.17 L452.53,321.40 L453.69,321.55 L454.85,321.60" fill="none" stroke="#b0b0b0" stroke-width="0.9" stroke-linejoin="round" stroke-dasharray="1.2,1.2"/>
<path d="M397.50,321.60 L400.99,321.56 L404.09,321.43 L406.80,321.24 L409.12,321.00 L409.51,320.91 L409.90,320.72 L410.29,320.45 L410.68,320.11 L411.06,319.69 L411.45,319.19 L411.84,318.37 L412.23,317.03 L412.61,315.26 L413.00,313.18 L413.39,310.04 L413.78,305.69 L414.16,301.15 L414.55,297.23 L414.94,293.27 L415.33,289.62 L415.71,287.04 L416.10,285.61 L416.49,284.38 L416.88,283.39 L417.26,282.74 L417.65,282.50 L418.04,282.69 L418.43,283.21 L418.81,283.99 L419.20,284.95 L419.59,286.04 L419.98,287.25 L420.36,289.16 L420.75,291.64 L421.14,294.37 L421.53,297.04 L421.91,299.32 L422.30,301.16 L422.69,302.92 L423.08,304.60 L423.46,306.20 L423.85,307.69 L424.24,309.07 L424.62,310.31 L425.01,311.41 L425.79,313.35 L426.18,314.25 L426.56,315.09 L426.95,315.87 L427.34,316.57 L427.73,317.18 L428.11,317.70 L428.50,318.11 L429.28,318.77 L430.05,319.33 L430.83,319.79 L431.60,320.15 L432.38,320.40 L434.31,320.84 L436.25,321.18 L437.80,321.36 L439.35,321.42" fill="none" stroke="#333" stroke-width="0.9" stroke-linejoin="round" stroke-dasharray="1.6,1.2"/>
<path d="M338.60,321.60 L364.95,321.60 L365.73,321.53 L366.89,321.23 L368.44,320.76 L369.99,320.18 L370.76,319.97 L372.70,319.83 L374.25,319.80 L375.03,319.90 L376.96,320.53 L378.13,321.01 L378.90,321.24 L380.45,321.49 L381.61,321.59 L408.35,321.60 L408.74,321.46 L409.12,321.05 L409.51,320.41 L409.90,319.58 L410.29,318.59 L410.68,317.49 L411.06,316.09 L411.45,313.64 L411.84,310.41 L412.61,303.07 L413.39,296.34 L413.78,292.67 L414.16,289.05 L414.55,285.85 L414.94,283.43 L415.33,282.05 L415.71,280.97 L416.10,280.02 L416.49,279.21 L416.88,278.59 L417.26,278.19 L417.65,278.05 L418.04,278.15 L418.43,278.38 L419.20,278.97 L419.59,279.16 L419.98,279.13 L420.36,278.50 L420.75,277.33 L421.14,275.77 L421.91,272.22 L422.30,270.56 L422.69,269.20 L423.85,265.36 L424.24,264.13 L424.62,262.99 L425.01,261.98 L425.40,261.13 L426.18,259.77 L426.56,259.13 L426.95,258.55 L427.34,258.08 L427.73,257.75 L428.11,257.60 L428.50,257.70 L428.89,258.07 L429.28,258.67 L429.66,259.47 L430.05,260.41 L430.44,261.46 L430.83,262.57 L431.21,263.79 L431.60,265.47 L431.99,267.56 L432.38,269.96 L432.76,272.57 L433.54,277.97 L433.93,280.57 L434.70,285.38 L435.86,292.96 L436.25,295.39 L436.64,297.67 L437.03,299.75 L437.41,301.55 L437.80,303.12 L438.19,304.63 L438.58,306.07 L438.96,307.46 L439.35,308.77 L439.74,309.99 L440.12,311.14 L440.51,312.19 L440.90,313.14 L441.29,313.99 L441.68,314.72 L442.45,315.96 L443.23,317.08 L444.00,318.07 L444.78,318.88 L445.16,319.21 L445.55,319.48 L445.94,319.70 L447.10,320.12 L448.65,320.58 L450.20,320.92 L451.75,321.16 L453.69,321.32 L457.95,321.52 L461.83,321.60 L493.60,321.60" fill="none" stroke="#111" stroke-width="1.4" stroke-linejoin="round" />
<path d="M338.60,321.60 L400.60,321.60 L401.38,321.50 L402.15,321.24 L402.93,320.86 L403.70,320.40 L404.09,320.08 L404.48,319.62 L404.86,319.04 L405.25,318.36 L405.64,317.60 L406.41,315.89 L406.80,314.98 L407.19,314.00 L407.58,312.89 L407.96,311.65 L408.35,310.29 L408.74,308.79 L409.12,307.18 L409.51,305.43 L409.90,303.55 L410.29,301.28 L410.68,298.53 L411.06,295.58 L411.84,289.88 L412.23,286.93 L412.61,284.17 L413.00,281.90 L413.39,279.98 L413.78,278.20 L414.16,276.77 L414.55,275.89 L414.94,275.37 L415.33,274.91 L415.71,274.56 L416.10,274.31 L416.49,274.21 L416.88,274.33 L417.26,274.76 L418.04,275.93 L418.43,276.36 L418.81,276.48 L419.20,276.31 L419.59,275.95 L419.98,275.46 L420.75,274.35 L421.14,273.87 L423.08,271.82 L424.24,270.68 L425.01,269.94 L425.79,269.13 L426.18,268.78 L426.56,268.52 L426.95,268.38 L427.34,268.42 L427.73,268.75 L428.11,269.32 L428.50,270.09 L428.89,271.02 L429.28,272.04 L430.05,274.26 L430.44,275.75 L430.83,277.61 L431.21,279.74 L431.60,282.04 L432.38,286.79 L432.76,289.05 L433.15,291.10 L434.31,297.01 L434.70,298.95 L435.09,300.82 L435.48,302.59 L435.86,304.22 L436.25,305.67 L437.03,308.21 L437.80,310.59 L438.19,311.71 L438.58,312.76 L438.96,313.74 L439.35,314.63 L439.74,315.44 L440.12,316.14 L440.51,316.73 L441.29,317.65 L442.06,318.45 L442.84,319.15 L443.61,319.71 L444.39,320.14 L445.16,320.42 L447.10,320.87 L448.65,321.14 L450.20,321.32 L452.91,321.46 L458.73,321.58 L493.60,321.60" fill="none" stroke="#3b5fc4" stroke-width="1.4" stroke-linejoin="round" />
<path d="M338.60,321.60 L378.90,321.60 L379.29,321.55 L379.68,321.42 L380.45,321.00 L380.84,320.65 L381.23,320.11 L381.61,319.43 L382.78,317.03 L383.16,316.16 L383.55,315.18 L384.32,313.00 L385.10,310.76 L385.49,309.70 L385.88,308.73 L386.65,306.99 L387.43,305.35 L388.20,303.79 L388.98,302.32 L389.75,300.96 L390.53,299.71 L391.69,297.96 L392.46,296.87 L393.24,295.87 L394.01,294.98 L394.79,294.22 L396.34,292.86 L397.50,291.94 L398.28,291.42 L399.05,291.00 L399.82,290.70 L401.38,290.36 L402.93,290.12 L404.09,290.03 L404.86,290.03 L406.03,290.17 L406.80,290.32 L407.19,290.46 L407.58,290.68 L407.96,290.98 L408.74,291.73 L409.90,292.92 L412.23,294.85 L413.39,295.73 L414.16,296.23 L416.10,297.19 L417.26,297.67 L418.04,297.90 L418.81,298.01 L419.20,298.01 L419.59,297.91 L419.98,297.71 L420.36,297.42 L421.14,296.67 L422.30,295.36 L423.08,294.56 L423.85,293.89 L425.01,292.76 L425.79,292.08 L426.18,291.82 L426.56,291.63 L426.95,291.53 L427.34,291.54 L427.73,291.63 L428.11,291.79 L428.50,292.02 L429.28,292.62 L429.66,292.98 L430.05,293.40 L430.44,294.16 L430.83,295.26 L431.21,296.61 L431.60,298.12 L432.38,301.32 L432.76,302.82 L433.15,304.16 L433.93,306.71 L434.70,309.31 L435.09,310.54 L435.48,311.67 L435.86,312.67 L436.25,313.50 L437.03,314.78 L437.80,315.91 L438.58,316.89 L439.35,317.71 L440.12,318.37 L440.90,318.86 L442.06,319.43 L443.23,319.89 L444.39,320.24 L446.33,320.64 L448.65,321.01 L450.59,321.22 L455.24,321.45 L459.89,321.58 L488.18,321.60" fill="none" stroke="#2f9a43" stroke-width="1.4" stroke-linejoin="round" />
<path d="M338.60,321.60 L378.13,321.60 L378.51,321.59 L378.90,321.25 L379.29,320.56 L379.68,319.11 L380.06,316.32 L380.45,312.93 L380.84,308.36 L381.61,298.71 L382.00,293.55 L382.39,288.81 L382.78,285.24 L383.16,283.21 L383.55,281.64 L383.94,280.39 L384.32,279.44 L384.71,278.78 L385.10,278.24 L385.49,277.76 L385.88,277.34 L386.26,277.03 L386.65,276.84 L387.04,276.79 L387.43,276.87 L387.81,277.06 L388.20,277.32 L388.98,278.00 L389.36,278.37 L389.75,278.85 L390.14,279.47 L390.53,280.20 L391.30,281.83 L391.69,282.67 L392.07,283.60 L392.46,284.64 L393.24,286.89 L394.01,289.19 L394.40,290.28 L395.56,293.29 L396.34,295.23 L397.11,297.03 L397.50,297.85 L397.89,298.60 L398.66,299.97 L399.44,301.25 L400.21,302.43 L400.99,303.48 L401.76,304.37 L402.54,305.11 L403.31,305.77 L404.48,306.62 L405.64,307.33 L407.19,308.09 L408.35,308.61 L409.51,309.02 L410.29,309.21 L412.23,309.44 L413.78,309.55 L414.94,309.56 L415.71,309.39 L416.49,309.06 L417.26,308.59 L418.81,307.46 L419.20,307.16 L419.59,306.79 L419.98,306.34 L420.75,305.28 L422.30,302.93 L423.08,301.87 L423.85,300.97 L425.01,299.53 L425.40,299.08 L425.79,298.69 L426.18,298.38 L426.56,298.15 L426.95,298.03 L427.34,298.05 L427.73,298.22 L428.11,298.52 L428.50,298.92 L429.28,299.92 L430.05,301.02 L430.44,301.70 L430.83,302.53 L431.21,303.46 L432.38,306.50 L432.76,307.47 L434.70,311.88 L435.09,312.72 L435.48,313.49 L435.86,314.19 L436.25,314.78 L437.03,315.72 L437.80,316.55 L438.58,317.27 L439.35,317.89 L440.12,318.42 L441.29,319.05 L442.45,319.57 L443.61,320.00 L444.78,320.33 L447.10,320.78 L449.04,321.06 L450.98,321.25 L456.01,321.48 L460.66,321.59 L477.33,321.60" fill="none" stroke="#ea2a2a" stroke-width="1.4" stroke-linejoin="round" />
<line x1="341.20" y1="203.80" x2="356.10" y2="203.80" stroke="#cfcfcf" stroke-width="1.8" stroke-dasharray="1.5,1.2"/>
<text x="357.80" y="206.10" font-size="7.05" font-weight="bold" font-style="normal" text-anchor="start" fill="#111" >eCUB</text>
<line x1="341.20" y1="211.70" x2="356.10" y2="211.70" stroke="#3a3a3a" stroke-width="1.0" stroke-dasharray="1.1,1.5"/>
<text x="357.80" y="214.00" font-size="7.05" font-weight="bold" font-style="normal" text-anchor="start" fill="#111" >gC1q hexamer</text>
<line x1="341.20" y1="219.90" x2="356.10" y2="219.90" stroke="#111" stroke-width="1.7" />
<text x="357.80" y="222.20" font-size="7.05" font-weight="bold" font-style="normal" text-anchor="start" fill="#111" >mixture</text>
<text x="386.80" y="222.20" font-size="7.05" font-weight="bold" font-style="italic" text-anchor="start" fill="#111" >(0 mM Ca<tspan font-size="4.2" dx="0.4" dy="-2.7">2+</tspan><tspan dy="2.7">)</tspan></text>
<line x1="341.20" y1="227.90" x2="356.10" y2="227.90" stroke="#3b5fc4" stroke-width="1.7" />
<text x="357.80" y="230.20" font-size="7.05" font-weight="bold" font-style="normal" text-anchor="start" fill="#111" >mixture</text>
<text x="386.80" y="230.20" font-size="7.05" font-weight="bold" font-style="italic" text-anchor="start" fill="#111" >(2 mM Ca<tspan font-size="4.2" dx="0.4" dy="-2.7">2+</tspan><tspan dy="2.7">)</tspan></text>
<line x1="341.20" y1="235.60" x2="356.10" y2="235.60" stroke="#2f9a43" stroke-width="1.7" />
<text x="357.80" y="237.90" font-size="7.05" font-weight="bold" font-style="normal" text-anchor="start" fill="#111" >mixture</text>
<text x="386.80" y="237.90" font-size="7.05" font-weight="bold" font-style="italic" text-anchor="start" fill="#111" >(5 mM Ca<tspan font-size="4.2" dx="0.4" dy="-2.7">2+</tspan><tspan dy="2.7">)</tspan></text>
<line x1="341.20" y1="243.50" x2="356.10" y2="243.50" stroke="#ea2a2a" stroke-width="1.7" />
<text x="357.80" y="245.80" font-size="7.05" font-weight="bold" font-style="normal" text-anchor="start" fill="#111" >mixture</text>
<text x="386.80" y="245.80" font-size="7.05" font-weight="bold" font-style="italic" text-anchor="start" fill="#111" >(10 mM Ca<tspan font-size="4.2" dx="0.4" dy="-2.7">2+</tspan><tspan dy="2.7">)</tspan></text>
<text x="503.20" y="192.20" font-size="12.5" font-weight="bold" font-style="normal" text-anchor="start" fill="#111" >f</text>
<text x="604.80" y="196.00" font-size="8.2" font-weight="bold" font-style="normal" text-anchor="middle" fill="#111" >gC1q-trimer/hexamer + eCUB<tspan font-size="4.6" dx="0.4" dy="-2.9">253</tspan></text>
<rect x="526.4" y="201.5" width="153.60" height="122.20" fill="none" stroke="#505050" stroke-width="1.1"/>
<line x1="526.40" y1="201.50" x2="526.40" y2="323.70" stroke="#6e6e6e" stroke-width="1.1" />
<line x1="526.40" y1="323.70" x2="680.00" y2="323.70" stroke="#333" stroke-width="1.1" />
<line x1="523.80" y1="318.90" x2="526.40" y2="318.90" stroke="#333" stroke-width="0.9" />
<text x="517.50" y="321.40" font-size="7" font-weight="bold" font-style="normal" text-anchor="middle" fill="#111" >0</text>
<line x1="523.80" y1="295.42" x2="526.40" y2="295.42" stroke="#333" stroke-width="0.9" />
<text x="517.50" y="297.92" font-size="7" font-weight="bold" font-style="normal" text-anchor="middle" fill="#111" >40</text>
<line x1="523.80" y1="271.94" x2="526.40" y2="271.94" stroke="#333" stroke-width="0.9" />
<text x="517.50" y="274.44" font-size="7" font-weight="bold" font-style="normal" text-anchor="middle" fill="#111" >80</text>
<line x1="523.80" y1="248.46" x2="526.40" y2="248.46" stroke="#333" stroke-width="0.9" />
<text x="517.50" y="250.96" font-size="7" font-weight="bold" font-style="normal" text-anchor="middle" fill="#111" >120</text>
<line x1="523.80" y1="224.98" x2="526.40" y2="224.98" stroke="#333" stroke-width="0.9" />
<text x="517.50" y="227.48" font-size="7" font-weight="bold" font-style="normal" text-anchor="middle" fill="#111" >160</text>
<line x1="523.80" y1="201.50" x2="526.40" y2="201.50" stroke="#333" stroke-width="0.9" />
<text x="517.50" y="204.00" font-size="7" font-weight="bold" font-style="normal" text-anchor="middle" fill="#111" >200</text>
<line x1="524.90" y1="307.16" x2="526.40" y2="307.16" stroke="#333" stroke-width="0.8" />
<line x1="524.90" y1="283.68" x2="526.40" y2="283.68" stroke="#333" stroke-width="0.8" />
<line x1="524.90" y1="260.20" x2="526.40" y2="260.20" stroke="#333" stroke-width="0.8" />
<line x1="524.90" y1="236.72" x2="526.40" y2="236.72" stroke="#333" stroke-width="0.8" />
<line x1="524.90" y1="213.24" x2="526.40" y2="213.24" stroke="#333" stroke-width="0.8" />
<line x1="526.40" y1="323.70" x2="526.40" y2="326.30" stroke="#333" stroke-width="0.9" />
<text x="526.40" y="334.00" font-size="7" font-weight="bold" font-style="normal" text-anchor="middle" fill="#111" >10</text>
<line x1="557.10" y1="323.70" x2="557.10" y2="326.30" stroke="#333" stroke-width="0.9" />
<text x="557.10" y="334.00" font-size="7" font-weight="bold" font-style="normal" text-anchor="middle" fill="#111" >12</text>
<line x1="587.80" y1="323.70" x2="587.80" y2="326.30" stroke="#333" stroke-width="0.9" />
<text x="587.80" y="334.00" font-size="7" font-weight="bold" font-style="normal" text-anchor="middle" fill="#111" >14</text>
<line x1="618.50" y1="323.70" x2="618.50" y2="326.30" stroke="#333" stroke-width="0.9" />
<text x="618.50" y="334.00" font-size="7" font-weight="bold" font-style="normal" text-anchor="middle" fill="#111" >16</text>
<line x1="649.20" y1="323.70" x2="649.20" y2="326.30" stroke="#333" stroke-width="0.9" />
<text x="649.20" y="334.00" font-size="7" font-weight="bold" font-style="normal" text-anchor="middle" fill="#111" >18</text>
<line x1="679.90" y1="323.70" x2="679.90" y2="326.30" stroke="#333" stroke-width="0.9" />
<text x="679.90" y="334.00" font-size="7" font-weight="bold" font-style="normal" text-anchor="middle" fill="#111" >20</text>
<line x1="541.75" y1="323.70" x2="541.75" y2="325.20" stroke="#333" stroke-width="0.8" />
<line x1="572.45" y1="323.70" x2="572.45" y2="325.20" stroke="#333" stroke-width="0.8" />
<line x1="603.15" y1="323.70" x2="603.15" y2="325.20" stroke="#333" stroke-width="0.8" />
<line x1="633.85" y1="323.70" x2="633.85" y2="325.20" stroke="#333" stroke-width="0.8" />
<line x1="664.55" y1="323.70" x2="664.55" y2="325.20" stroke="#333" stroke-width="0.8" />
<text x="609.80" y="344.30" font-size="7.25" font-weight="bold" font-style="normal" text-anchor="middle" fill="#111" >Elution Volume (mL)</text>
<text transform="translate(507.8,259.7) rotate(-90)" font-size="7.3" font-weight="bold" text-anchor="middle" fill="#111">A280 (mAu)</text>
<path d="M526.40,318.61 L569.38,318.61 L569.76,318.57 L570.15,318.45 L570.53,318.25 L570.91,317.99 L571.30,317.63 L571.68,316.42 L572.07,314.34 L572.45,311.86 L572.83,308.28 L573.22,303.79 L573.60,300.07 L573.99,296.99 L574.37,294.09 L574.75,291.45 L575.14,289.14 L575.52,287.24 L575.90,285.73 L576.29,284.27 L576.67,282.92 L577.05,281.78 L577.44,280.93 L577.82,280.49 L578.21,280.47 L578.59,280.55 L579.36,280.89 L580.12,281.33 L580.51,281.59 L580.89,281.92 L581.66,282.74 L582.43,283.71 L583.19,284.78 L583.58,285.39 L583.96,286.07 L584.73,287.58 L586.26,290.78 L587.42,293.32 L588.57,295.92 L590.49,300.17 L591.25,301.75 L592.02,303.13 L592.79,304.41 L593.56,305.58 L594.32,306.60 L595.09,307.46 L595.86,308.24 L597.01,309.29 L598.16,310.19 L599.70,311.24 L600.85,311.95 L602.00,312.56 L602.77,312.89 L603.92,313.27 L605.84,313.73 L608.91,314.36 L613.13,315.38 L615.05,315.78 L618.88,316.40 L622.34,316.86 L625.79,317.22 L631.55,317.67 L636.92,318.00 L643.44,318.26 L651.50,318.47 L664.93,318.61 L679.52,318.67 L679.90,318.67" fill="none" stroke="#ea2a2a" stroke-width="1.3" stroke-linejoin="round" />
<path d="M526.40,318.61 L569.38,318.61 L569.76,318.57 L570.15,318.45 L570.53,318.25 L570.91,317.99 L571.30,317.63 L571.68,316.43 L572.07,314.36 L572.45,311.86 L572.83,308.13 L573.22,303.37 L573.60,299.46 L573.99,296.24 L574.37,293.22 L574.75,290.47 L575.14,288.07 L575.52,286.10 L575.90,284.52 L576.29,282.99 L576.67,281.57 L577.05,280.37 L577.44,279.49 L577.82,279.03 L578.21,279.01 L578.59,279.16 L578.97,279.42 L580.12,280.45 L580.89,281.24 L581.66,282.21 L582.43,283.31 L583.19,284.52 L583.58,285.19 L584.35,286.69 L586.26,290.79 L588.57,295.92 L590.49,300.17 L591.25,301.75 L592.02,303.13 L592.79,304.41 L593.56,305.58 L594.32,306.60 L595.09,307.46 L595.86,308.24 L597.01,309.29 L598.16,310.19 L599.70,311.24 L600.85,311.95 L602.00,312.56 L602.77,312.89 L603.92,313.27 L605.84,313.73 L608.91,314.36 L613.13,315.38 L615.05,315.78 L618.88,316.40 L622.34,316.86 L625.79,317.22 L631.55,317.67 L636.92,318.00 L643.44,318.26 L651.50,318.47 L664.93,318.61 L679.52,318.67 L679.90,318.67" fill="none" stroke="#7ed04b" stroke-width="1.3" stroke-linejoin="round" />
<path d="M526.40,318.61 L570.15,318.61 L570.53,318.50 L570.91,318.20 L571.30,317.74 L571.68,317.14 L572.07,315.61 L572.45,312.96 L572.83,310.12 L573.22,306.77 L573.99,299.09 L574.37,295.77 L574.75,293.39 L575.14,291.39 L575.52,289.60 L575.90,288.07 L576.29,286.81 L576.67,285.86 L577.05,285.02 L577.44,284.24 L577.82,283.57 L578.21,283.08 L578.59,282.82 L578.97,282.81 L579.74,282.94 L580.51,283.18 L580.89,283.38 L581.28,283.65 L582.04,284.35 L582.81,285.18 L583.19,285.62 L583.58,286.15 L583.96,286.75 L584.73,288.13 L586.26,291.17 L587.03,292.85 L588.57,296.39 L590.10,299.78 L590.87,301.42 L591.25,302.18 L592.02,303.53 L592.79,304.78 L593.56,305.92 L594.32,306.90 L595.09,307.73 L595.86,308.48 L597.01,309.47 L598.16,310.34 L599.70,311.33 L600.85,312.00 L602.00,312.58 L603.15,313.03 L604.68,313.47 L608.91,314.36 L613.13,315.38 L615.05,315.78 L618.88,316.40 L622.34,316.86 L625.79,317.22 L631.55,317.67 L636.92,318.00 L643.44,318.26 L651.50,318.47 L664.93,318.61 L679.52,318.67 L679.90,318.67" fill="none" stroke="#3a5cc0" stroke-width="1.5" stroke-linejoin="round" />
<path d="M569.84,318.73 L580.59,318.73 L580.97,318.68 L581.35,316.98 L581.74,313.31 L582.12,301.16 L582.50,288.76 L582.89,279.15 L583.27,271.92 L583.66,268.05 L584.04,265.11 L584.42,262.86 L584.81,261.15 L585.19,259.72 L585.57,258.41 L585.96,257.41 L586.34,256.93 L586.73,257.69 L587.11,260.04 L587.49,262.55 L587.88,264.69 L588.64,269.13 L589.03,271.29 L589.41,273.35 L589.80,275.35 L590.18,277.29 L590.56,279.17 L590.95,280.99 L592.10,286.22 L592.87,289.81 L593.25,291.50 L593.63,292.98 L594.02,294.32 L594.40,295.56 L595.17,297.86 L596.32,301.14 L596.70,302.20 L597.09,303.21 L597.47,304.14 L597.85,304.97 L598.62,306.49 L599.39,307.86 L600.16,309.06 L600.92,310.05 L601.69,310.92 L602.46,311.69 L603.23,312.38 L603.99,312.99 L605.15,313.79 L606.30,314.48 L607.45,315.05 L608.98,315.62 L610.90,316.19 L612.82,316.65 L615.12,317.04 L618.58,317.50 L622.03,317.84 L627.02,318.16 L633.16,318.45 L638.15,318.59 L659.64,318.70 L678.83,318.73" fill="none" stroke="#ea2a2a" stroke-width="1.5" stroke-linejoin="round" stroke-dasharray="3.2,1.8"/>
<path d="M570.61,318.73 L581.35,318.73 L581.74,318.67 L582.12,316.95 L582.50,313.22 L582.89,300.88 L583.27,288.29 L583.66,278.53 L584.04,271.19 L584.42,267.26 L584.81,264.27 L585.19,261.99 L585.57,260.25 L585.96,258.80 L586.34,257.46 L586.73,256.45 L587.11,255.96 L587.49,256.73 L587.88,259.12 L588.26,261.67 L588.64,263.84 L589.41,268.35 L589.80,270.55 L590.18,272.64 L590.56,274.67 L590.95,276.64 L591.33,278.55 L591.71,280.40 L592.87,285.71 L593.63,289.35 L594.02,291.07 L594.40,292.57 L594.78,293.93 L595.17,295.19 L595.94,297.53 L597.09,300.87 L597.47,301.94 L597.85,302.96 L598.24,303.91 L598.62,304.75 L599.39,306.30 L600.16,307.69 L600.92,308.90 L601.69,309.91 L602.46,310.79 L603.23,311.58 L603.99,312.28 L604.76,312.89 L605.91,313.71 L607.06,314.41 L608.22,314.99 L609.75,315.56 L611.67,316.15 L613.59,316.62 L615.89,317.02 L619.34,317.48 L622.80,317.82 L627.79,318.15 L633.93,318.44 L638.92,318.59 L660.02,318.70 L679.59,318.73" fill="none" stroke="#7ed04b" stroke-width="1.5" stroke-linejoin="round" stroke-dasharray="3,2" stroke-dashoffset="1.5"/>
<path d="M570.91,318.72 L581.66,318.72 L582.04,318.67 L582.43,316.90 L582.81,313.08 L583.19,300.42 L583.58,287.50 L583.96,277.50 L584.35,269.96 L584.73,265.93 L585.11,262.87 L585.50,260.53 L585.88,258.74 L586.26,257.25 L586.65,255.89 L587.03,254.84 L587.42,254.35 L587.80,255.14 L588.18,257.59 L588.57,260.20 L588.95,262.43 L589.72,267.06 L590.10,269.31 L590.49,271.45 L590.87,273.53 L591.25,275.55 L591.64,277.52 L592.02,279.41 L593.17,284.85 L593.94,288.60 L594.32,290.36 L594.71,291.90 L595.09,293.29 L595.48,294.59 L596.24,296.98 L597.39,300.41 L597.78,301.51 L598.16,302.55 L598.54,303.52 L598.93,304.39 L599.70,305.98 L600.46,307.40 L601.23,308.65 L602.00,309.68 L602.77,310.58 L603.53,311.39 L604.30,312.11 L605.07,312.74 L606.22,313.57 L607.37,314.30 L608.52,314.89 L610.06,315.48 L611.98,316.08 L613.89,316.56 L616.20,316.97 L619.27,317.39 L622.72,317.76 L626.17,318.02 L632.70,318.36 L637.69,318.54 L650.35,318.66 L676.06,318.72 L679.90,318.72" fill="none" stroke="#3a5cc0" stroke-width="1.5" stroke-linejoin="round" stroke-dasharray="3,2" stroke-dashoffset="3"/>
<text x="554.70" y="208.70" font-size="7.4" font-weight="bold" font-style="normal" text-anchor="middle" fill="#111" >gC1q-hexamer</text>
<text x="554.70" y="216.80" font-size="7.4" font-weight="bold" font-style="normal" text-anchor="middle" fill="#111" >+ eCUB</text>
<text x="554.70" y="225.40" font-size="7.4" font-weight="bold" font-style="italic" text-anchor="middle" fill="#111" >(10 mM Ca<tspan font-size="4.2" dx="0.4" dy="-2.7">2+</tspan><tspan dy="2.7">)</tspan></text>
<text x="653.90" y="209.50" font-size="7.4" font-weight="bold" font-style="normal" text-anchor="middle" fill="#111" >gC1q-trimer</text>
<text x="653.90" y="217.60" font-size="7.4" font-weight="bold" font-style="normal" text-anchor="middle" fill="#111" >+ eCUB</text>
<text x="653.90" y="225.70" font-size="7.4" font-weight="bold" font-style="italic" text-anchor="middle" fill="#111" >(10 mM Ca<tspan font-size="4.2" dx="0.4" dy="-2.7">2+</tspan><tspan dy="2.7">)</tspan></text>
<line x1="541.50" y1="231.90" x2="550.50" y2="231.90" stroke="#ea2a2a" stroke-width="1.6" />
<text x="554.80" y="234.30" font-size="7.4" font-weight="bold" font-style="normal" text-anchor="start" fill="#111" >0h</text>
<line x1="541.50" y1="239.80" x2="550.50" y2="239.80" stroke="#7ed04b" stroke-width="1.6" />
<text x="554.80" y="242.20" font-size="7.4" font-weight="bold" font-style="normal" text-anchor="start" fill="#111" >6h</text>
<line x1="541.50" y1="247.80" x2="550.50" y2="247.80" stroke="#3a5cc0" stroke-width="1.6" />
<text x="554.80" y="250.20" font-size="7.4" font-weight="bold" font-style="normal" text-anchor="start" fill="#111" >12h</text>
<line x1="640.70" y1="231.50" x2="649.50" y2="231.50" stroke="#ea2a2a" stroke-width="1.2" stroke-dasharray="1.7,0.6"/>
<text x="654.10" y="233.90" font-size="7.4" font-weight="bold" font-style="normal" text-anchor="start" fill="#111" >0h</text>
<line x1="640.70" y1="239.20" x2="649.50" y2="239.20" stroke="#7ed04b" stroke-width="1.2" stroke-dasharray="1.2,2.2"/>
<text x="654.10" y="241.60" font-size="7.4" font-weight="bold" font-style="normal" text-anchor="start" fill="#111" >6h</text>
<line x1="640.70" y1="247.20" x2="649.50" y2="247.20" stroke="#3a5cc0" stroke-width="1.2" stroke-dasharray="1.2,2.2"/>
<text x="654.10" y="249.60" font-size="7.4" font-weight="bold" font-style="normal" text-anchor="start" fill="#111" >12h</text>
</svg>
</body></html>
